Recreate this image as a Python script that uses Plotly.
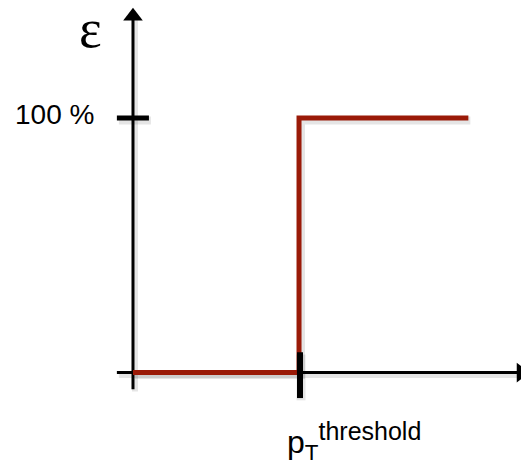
import plotly.graph_objects as go

# ---- data (schematic trigger efficiency turn-on) ----
pt_threshold = 1.0
pt_values = [0.0, 1.0, 1.0, 2.02]          # pT (in units of threshold)
eff_values = [0, 0, 100, 100]              # efficiency in %
y_tick_value = 100
y_tick_label = "100 %"
y_axis_title = "ε"
x_axis_title = "p<sub>T</sub><sup><span style='font-size:25px'>threshold</span></sup>"

# axis extents (data units)
x_axis_start, x_axis_end = -0.097, 2.337
y_axis_start, y_axis_end = -6.5, 140.0

RED = "#9a1a08"
SHADOW = "rgba(0,0,0,0.10)"

fig = go.Figure()

def shadow(xs, ys, w):
    fig.add_trace(go.Scatter(x=[v + 0.012 for v in xs], y=[v - 0.9 for v in ys],
                             mode="lines", line=dict(color=SHADOW, width=w + 3),
                             hoverinfo="skip", showlegend=False))

# axes lines
shadow([x_axis_start, x_axis_end], [0, 0], 3)
shadow([0, 0], [y_axis_start, y_axis_end], 3)
fig.add_trace(go.Scatter(x=[x_axis_start, x_axis_end], y=[0, 0], mode="lines",
                         line=dict(color="black", width=3), showlegend=False, hoverinfo="skip"))
fig.add_trace(go.Scatter(x=[0, 0], y=[y_axis_start, y_axis_end], mode="lines",
                         line=dict(color="black", width=3), showlegend=False, hoverinfo="skip"))
# arrowheads
fig.add_trace(go.Scatter(x=[0], y=[y_axis_end], mode="markers",
                         marker=dict(symbol="triangle-up", size=17, color="black", line=dict(width=0)),
                         showlegend=False, hoverinfo="skip"))
fig.add_trace(go.Scatter(x=[x_axis_end], y=[0], mode="markers",
                         marker=dict(symbol="triangle-right", size=17, color="black", line=dict(width=0)),
                         showlegend=False, hoverinfo="skip"))

# 100 % tick
shadow([-0.097, 0.096], [y_tick_value, y_tick_value], 5)
fig.add_trace(go.Scatter(x=[-0.097, 0.096], y=[y_tick_value, y_tick_value], mode="lines",
                         line=dict(color="black", width=5), showlegend=False, hoverinfo="skip"))

# efficiency step
shadow(pt_values, eff_values, 5)
fig.add_trace(go.Scatter(x=pt_values, y=eff_values, mode="lines",
                         line=dict(color=RED, width=5, shape="linear"),
                         showlegend=False, hoverinfo="skip"))

# threshold tick
shadow([pt_threshold, pt_threshold], [-10, 8], 6)
fig.add_trace(go.Scatter(x=[pt_threshold + 0.006] * 2, y=[-10, 8], mode="lines",
                         line=dict(color="black", width=6), showlegend=False, hoverinfo="skip"))

fig.add_annotation(x=-0.257, y=135, text=y_axis_title, showarrow=False,
                   font=dict(family="Liberation Serif", size=54, color="black"))
fig.add_annotation(x=-0.22, y=y_tick_value + 1.5, text=y_tick_label, showarrow=False,
                   xanchor="right", font=dict(family="Liberation Sans", size=28, color="black"))
fig.add_annotation(x=0.918, y=-27, text=x_axis_title, showarrow=False,
                   xanchor="left", font=dict(family="Liberation Sans", size=32, color="black"))

fig.update_layout(
    width=521, height=465,
    margin=dict(l=0, r=0, t=0, b=0),
    paper_bgcolor="white", plot_bgcolor="white",
    xaxis=dict(range=[-0.801, 2.337], visible=False, fixedrange=True),
    yaxis=dict(range=[-36.3, 146.4], visible=False, fixedrange=True),
    showlegend=False,
)

fig.write_html("out.html", config={"displayModeBar": False},
               post_script="document.body.style.margin='0';document.body.style.overflow='hidden';")
